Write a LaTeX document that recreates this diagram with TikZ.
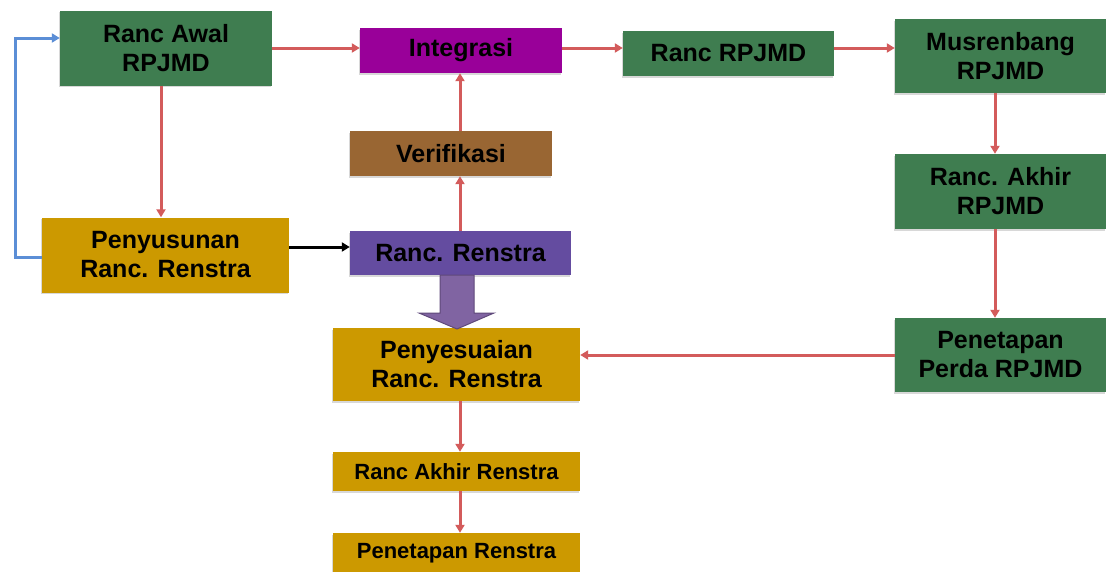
\documentclass[tikz,border=0pt]{standalone}
\usepackage{fontspec}
\setmainfont{Liberation Sans}
\usetikzlibrary{arrows.meta,shadows}
\definecolor{cgreen}{HTML}{3F7D50}
\definecolor{cmag}{HTML}{990099}
\definecolor{cbrown}{HTML}{996633}
\definecolor{cgold}{HTML}{CC9900}
\definecolor{cpurple}{HTML}{644CA0}
\definecolor{cpurplelt}{HTML}{8064A2}
\definecolor{cpurpledk}{HTML}{5F497A}
\definecolor{cred}{HTML}{D35B5B}
\definecolor{cblue}{HTML}{5B8ED6}
\tikzset{
  box/.style={rectangle, inner sep=0pt, align=center, font=\bfseries\fontsize{25}{29}\selectfont,
    drop shadow={shadow xshift=-1.5pt, shadow yshift=-1.5pt, opacity=0.3, fill=black!50}},
  gbox/.style={box, fill=cgreen},
  ybox/.style={box, fill=cgold},
  arr/.style={draw=cred, line width=3pt, -{Triangle[length=8pt,width=9pt]}},
  barr/.style={draw=cblue, line width=3pt, -{Triangle[length=8pt,width=9pt]}},
  karr/.style={draw=black, line width=3pt, -{Triangle[length=8pt,width=9pt]}},
}
\begin{document}
\begin{tikzpicture}[x=1pt,y=1pt]
\useasboundingbox (0,0) rectangle (1114,-571);
\fill[white] (0,0) rectangle (1114,-571);
% nodes
\node[gbox, minimum width=212, minimum height=75] (raw) at (166,-48) {Ranc Awal\\RPJMD};
\node[box, fill=cmag, minimum width=202, minimum height=45] (int) at (461,-50.5) {Integrasi};
\node[gbox, minimum width=211, minimum height=45] (rr) at (728.5,-53.5) {Ranc RPJMD};
\node[gbox, minimum width=211, minimum height=74] (mus) at (1000.5,-56) {Musrenbang\\RPJMD};
\node[gbox, minimum width=211, minimum height=75] (rak) at (1000.5,-191.5) {Ranc. Akhir\\RPJMD};
\node[gbox, minimum width=211, minimum height=74] (ppr) at (1000.5,-355) {Penetapan\\Perda RPJMD};
\node[box, fill=cbrown, minimum width=202, minimum height=45] (ver) at (451,-153.5) {Verifikasi};
\node[ybox, minimum width=247, minimum height=75] (pen) at (165.5,-255) {Penyusunan\\Ranc. Renstra};
\node[box, fill=cpurple, minimum width=221, minimum height=44] (rre) at (460.5,-253) {Ranc. Renstra};
\node[ybox, minimum width=247, minimum height=73] (pny) at (456.5,-364.5) {Penyesuaian\\Ranc. Renstra};
\node[ybox, minimum width=247, minimum height=39, font=\bfseries\fontsize{22}{26}\selectfont] (rar) at (456.5,-471.5) {Ranc Akhir Renstra};
\node[ybox, minimum width=247, minimum height=40, font=\bfseries\fontsize{22}{26}\selectfont] (prs) at (456.5,-553) {Penetapan Renstra};
% helper coordinates
\coordinate (cx) at (460,0);
\coordinate (rx) at (995,0);
\coordinate (lx) at (161,0);
\coordinate (ty) at (0,-48);
\coordinate (by) at (0,-247);
\coordinate (uy) at (0,-38);
\coordinate (bl) at (15,-257);
% connectors
\draw[arr] (raw.east |- ty) -- (int.west |- ty);
\draw[arr] (int.east |- ty) -- (rr.west |- ty);
\draw[arr] (rr.east |- ty) -- (mus.west |- ty);
\draw[arr] (mus.south -| rx) -- (rak.north -| rx);
\draw[arr] (rak.south -| rx) -- (ppr.north -| rx);
\draw[arr] (ppr.west) -- (ppr.west -| pny.east);
\draw[arr] (raw.south -| lx) -- (pen.north -| lx);
\draw[barr] (pen.west |- bl) -- (bl) |- (raw.west |- uy);
\draw[karr] (pen.east |- by) -- (rre.west |- by);
\draw[arr] (rre.north -| cx) -- (ver.south -| cx);
\draw[arr] (ver.north -| cx) -- (int.south -| cx);
\draw[arr] (pny.south -| cx) -- (rar.north -| cx);
\draw[arr] (rar.south -| cx) -- (prs.north -| cx);
% big block arrow
\draw[fill=cpurplelt, draw=cpurpledk, line width=1pt, line join=miter]
  (440,-275) -- (474,-275) -- (474,-313) -- (494,-313) -- (457,-329) -- (419,-313) -- (440,-313) -- cycle;
\end{tikzpicture}
\end{document}
